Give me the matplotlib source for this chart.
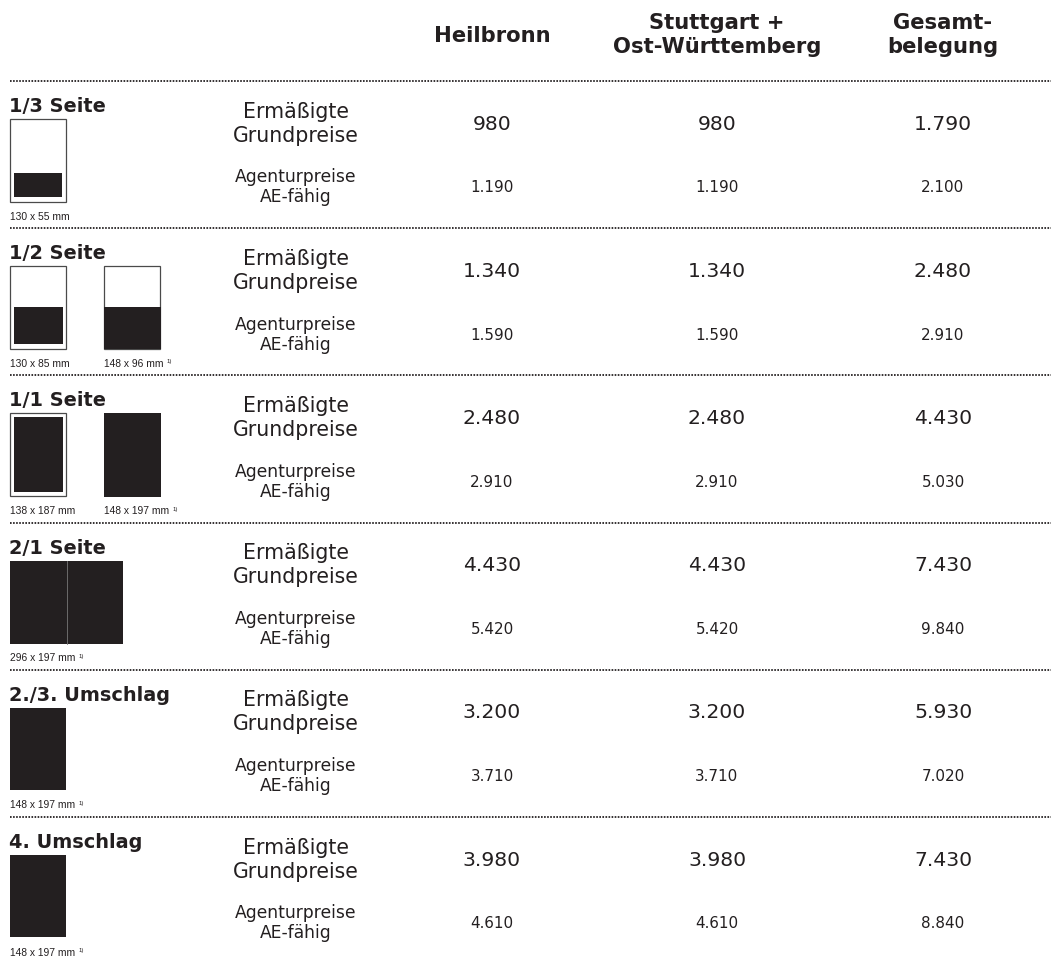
import matplotlib
matplotlib.use("Agg")
import matplotlib.pyplot as plt
from matplotlib.patches import Rectangle
from matplotlib import font_manager

# ---------------- data ----------------
sections = ["1/3 Seite", "1/2 Seite", "1/1 Seite", "2/1 Seite", "2./3. Umschlag", "4. Umschlag"]
columns = ["Heilbronn", "Stuttgart +\nOst-Württemberg", "Gesamt-\nbelegung"]
price_labels = ["Ermäßigte\nGrundpreise", "Agenturpreise\nAE-fähig"]

grund_heilbronn = [980, 1340, 2480, 4430, 3200, 3980]
grund_stuttgart = [980, 1340, 2480, 4430, 3200, 3980]
grund_gesamt = [1790, 2480, 4430, 7430, 5930, 7430]

agentur_heilbronn = [1190, 1590, 2910, 5420, 3710, 4610]
agentur_stuttgart = [1190, 1590, 2910, 5420, 3710, 4610]
agentur_gesamt = [2100, 2910, 5030, 9840, 7020, 8840]

formats = [["130 x 55 mm"], ["130 x 85 mm", "148 x 96 mm"], ["138 x 187 mm", "148 x 197 mm"],
           ["296 x 197 mm"], ["148 x 197 mm"], ["148 x 197 mm"]]
footnotes = [[False], [False, True], [False, True], [True], [True], [True]]
icon_kinds = [["third"], ["half_inset", "half_bleed"], ["full_inset", "full_bleed"],
              ["spread"], ["cover"], ["cover"]]

# ---------------- style ----------------
INK = "#231f20"
W, H = 1051, 963
fig = plt.figure(figsize=(W / 100, H / 100), dpi=100)
ax = fig.add_axes([0, 0, 1, 1])
ax.set_xlim(0, W)
ax.set_ylim(H, 0)
ax.axis("off")

names = {f.name for f in font_manager.fontManager.ttflist}
if "Liberation Sans Narrow" in names:
    SMALL_FAM, SMALL_SIZE = "Liberation Sans Narrow", 8.8
elif "Liberation Sans" in names:
    SMALL_FAM, SMALL_SIZE = "Liberation Sans", 7.4
else:
    SMALL_FAM, SMALL_SIZE = "DejaVu Sans", 6.8

FAM = "DejaVu Sans"
col_x = [492, 717, 943]
label_x = 296
top0 = 81
step = 147.2


def fmt(v):
    return f"{v:,}".replace(",", ".")


def dotted(y):
    ax.plot([10, W], [y, y], color=INK, lw=1.3, linestyle=(0, (0.9, 0.8)),
            solid_capstyle="butt", dash_capstyle="butt")


# header
hdr_base = [42, (29, 53), (29, 53)]
for i, c in enumerate(columns):
    lines = c.split("\n")
    if len(lines) == 1:
        ax.text(col_x[i], hdr_base[i], lines[0], ha="center", va="baseline",
                fontsize=15.2, fontweight="bold", color=INK, family=FAM)
    else:
        for ln, yb in zip(lines, hdr_base[i]):
            ax.text(col_x[i], yb, ln, ha="center", va="baseline",
                    fontsize=15.2, fontweight="bold", color=INK, family=FAM)

dotted(top0)

OUT = "#4a4a4a"


def draw_icon(kind, x, top):
    w, h = 56, 83
    if kind in ("third", "half_inset", "half_bleed", "full_inset"):
        ax.add_patch(Rectangle((x, top), w, h, facecolor="white", edgecolor=OUT, lw=0.9))
    if kind == "third":
        ax.add_patch(Rectangle((x + 3.5, top + 54), w - 7.5, 24, facecolor=INK, lw=0))
    elif kind == "half_inset":
        ax.add_patch(Rectangle((x + 4, top + 41), w - 7.5, 37, facecolor=INK, lw=0))
    elif kind == "half_bleed":
        ax.add_patch(Rectangle((x, top + 41), w + 0.5, h - 41, facecolor=INK, lw=0))
    elif kind == "full_inset":
        ax.add_patch(Rectangle((x + 3.5, top + 4), w - 7, h - 8, facecolor=INK, lw=0))
    elif kind == "full_bleed":
        ax.add_patch(Rectangle((x, top), w + 1, h + 1, facecolor=INK, lw=0))
    elif kind == "spread":
        ax.add_patch(Rectangle((x, top), 113, h, facecolor=INK, lw=0))
        ax.plot([x + 57, x + 57], [top, top + h], color="#777777", lw=0.6)
    elif kind == "cover":
        ax.add_patch(Rectangle((x, top), w, h - 1, facecolor=INK, lw=0))


grund = [grund_heilbronn, grund_stuttgart, grund_gesamt]
agentur = [agentur_heilbronn, agentur_stuttgart, agentur_gesamt]

for i, sec in enumerate(sections):
    s = top0 + i * step
    # title
    ax.text(9, s + 31, sec, ha="left", va="baseline", fontsize=13.9,
            fontweight="heavy", color=INK, family=FAM)
    # icons + format labels
    icon_x = [10, 104]
    for j, kind in enumerate(icon_kinds[i]):
        draw_icon(kind, icon_x[j], s + 38)
        t = ax.text(icon_x[j], s + 138.5, formats[i][j], ha="left", va="baseline",
                    fontsize=SMALL_SIZE, color=INK, family=SMALL_FAM)
        if footnotes[i][j]:
            ax.annotate("1)", xy=(1, 1), xycoords=t, xytext=(2.5, -0.5),
                        textcoords="offset points", ha="left", va="top",
                        fontsize=4.2, color=INK, family=SMALL_FAM)
    # price type labels
    g1, g2 = price_labels[0].split("\n")
    ax.text(label_x, s + 36.5, g1, ha="center", va="baseline", fontsize=14.8,
            color=INK, family=FAM)
    ax.text(label_x, s + 60.5, g2, ha="center", va="baseline", fontsize=14.8,
            color=INK, family=FAM)
    a1, a2 = price_labels[1].split("\n")
    ax.text(label_x, s + 101.5, a1, ha="center", va="baseline", fontsize=12.3,
            color=INK, family=FAM)
    ax.text(label_x, s + 121.5, a2, ha="center", va="baseline", fontsize=12.3,
            color=INK, family=FAM)
    # values
    for c in range(3):
        ax.text(col_x[c], s + 48.5, fmt(grund[c][i]), ha="center", va="baseline",
                fontsize=14.7, color=INK, family=FAM)
        ax.text(col_x[c], s + 111.5, fmt(agentur[c][i]), ha="center", va="baseline",
                fontsize=10.9, color=INK, family=FAM)
    if i < len(sections) - 1:
        dotted(s + step)

fig.savefig("out.png", dpi=100, facecolor="white")
